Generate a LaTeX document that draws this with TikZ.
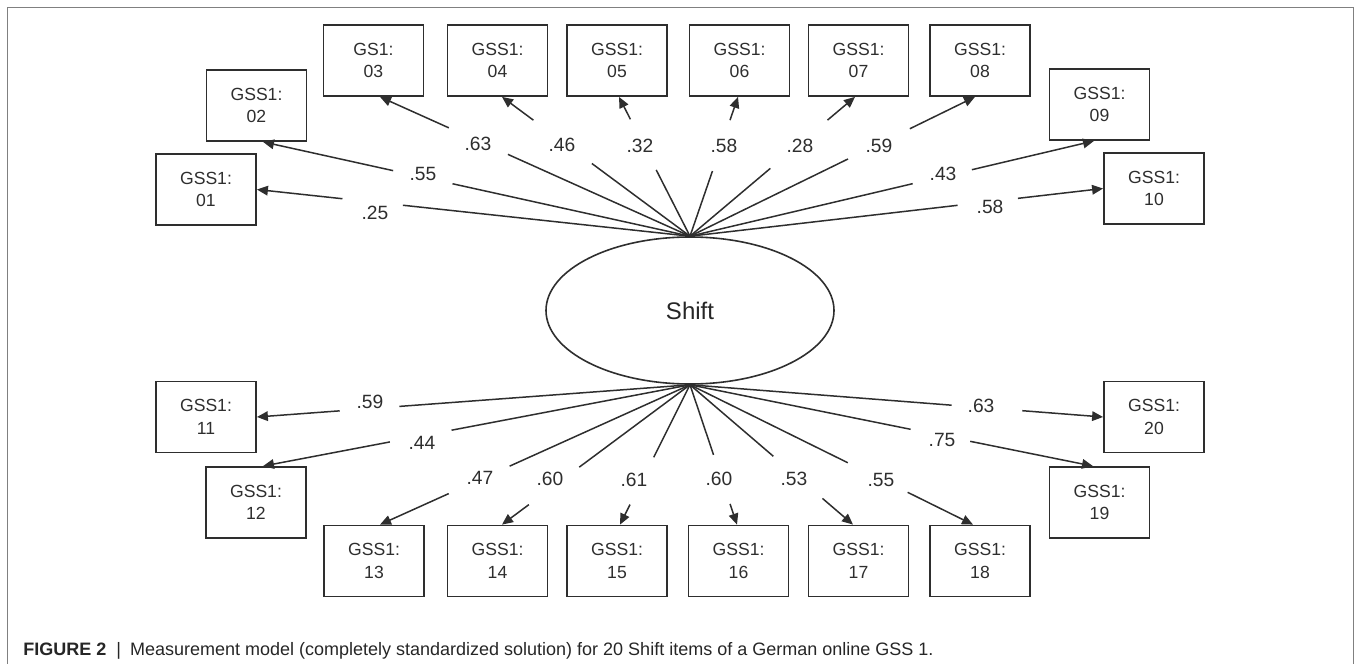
\documentclass[tikz,border=0pt]{standalone}
\usepackage{fontspec}
\setmainfont{Liberation Sans}
\usetikzlibrary{arrows.meta,shapes.geometric,calc}
\definecolor{ink}{HTML}{2E2E2E}
\definecolor{framegray}{HTML}{808080}
\begin{document}
\begin{tikzpicture}[x=0.5pt,y=-0.5pt,
  item/.style={draw=ink, line width=0.9pt, minimum width=50pt, minimum height=35.5pt,
    inner sep=0pt, align=center, font=\fontsize{8.8}{11.25}\selectfont, text=ink},
  lat/.style={ellipse, draw=ink, line width=0.8pt, minimum width=144pt, minimum height=73.5pt,
    inner sep=0pt, font=\fontsize{12}{14}\selectfont, text=black!85},
  wire/.style={draw=ink, line width=0.75pt},
  load/.style={wire, -{Triangle[length=5.5pt,width=4.8pt]}},
  gap/.style={circle, inner sep=0pt, minimum size=#1},
  coef/.style={inner sep=0pt, font=\fontsize{9.6}{11}\selectfont, text=ink},
]
\useasboundingbox (0,0) rectangle (1356,664);
\draw[framegray, line width=0.75pt] (7.5,664) -- (7.5,7.5) -- (1353.5,7.5) -- (1353.5,664);

% latent variable
\node[lat] (ell) at (690,310.5) {Shift};

% indicator boxes
\node[item] (b01) at (206,189.5) {GSS1:\\01};
\node[item] (b02) at (256.5,105.5) {GSS1:\\02};
\node[item] (b03) at (373.5,60.5) {GS1:\\03};
\node[item] (b04) at (497.5,60.5) {GSS1:\\04};
\node[item] (b05) at (617,60.5) {GSS1:\\05};
\node[item] (b06) at (739.5,60.5) {GSS1:\\06};
\node[item] (b07) at (858.5,60.5) {GSS1:\\07};
\node[item] (b08) at (980,60.5) {GSS1:\\08};
\node[item] (b09) at (1099.5,104.5) {GSS1:\\09};
\node[item] (b10) at (1154,188.5) {GSS1:\\10};
\node[item] (b11) at (206,417) {GSS1:\\11};
\node[item] (b12) at (256,502.5) {GSS1:\\12};
\node[item] (b13) at (374,561) {GSS1:\\13};
\node[item] (b14) at (497.5,561) {GSS1:\\14};
\node[item] (b15) at (617,561) {GSS1:\\15};
\node[item] (b16) at (738.5,561) {GSS1:\\16};
\node[item] (b17) at (858.5,561) {GSS1:\\17};
\node[item] (b18) at (980,561) {GSS1:\\18};
\node[item] (b19) at (1099.5,502.5) {GSS1:\\19};
\node[item] (b20) at (1154,417) {GSS1:\\20};

% arrow targets on the boxes
\coordinate (t01) at (b01.east);
\coordinate (t10) at (b10.west);
\coordinate (t11) at (b11.east);
\coordinate (t20) at (b20.west);
\foreach \n/\dx in {02/6.5, 03/6.5, 04/4.5, 05/2, 06/-1.5, 07/-3.5, 08/-5, 09/-5.5}
  \coordinate (t\n) at ($(b\n.south)+(\dx,0)$);
\foreach \n/\dx in {12/7, 13/6, 14/4.5, 15/3, 16/-1.5, 17/-5.5, 18/-7, 19/-6.5}
  \coordinate (t\n) at ($(b\n.north)+(\dx,0)$);

% loadings: each line is broken by a gap around its coefficient
\foreach \n/\gx/\gy/\len in {01/372.5/203.5/30, 02/422.5/178.5/30, 03/477.5/143/32, 04/561/144/36,
    05/642.5/145/28, 06/722.5/146/26.5, 07/800/145.5/37, 08/879.5/145/34, 09/942.5/177.5/30, 10/988/203.5/30}{
  \node[gap=\len pt] (g\n) at ($(ell.north)!(\gx,\gy)!(t\n)$) {};
  \draw[wire] (ell.north) -- (g\n);
  \draw[load] (g\n) -- (t\n);
}
\foreach \n/\gx/\gy/\len in {11/369.5/408.5/29.5, 12/420.5/435/31, 13/479/479.5/33, 14/553/484.5/31,
    15/640/480/26, 16/723/479/25.5, 17/799.5/475.5/32, 18/878.5/476/33, 19/940.5/435/30, 20/987/408/35}{
  \node[gap=\len pt] (g\n) at ($(ell.south)!(\gx,\gy)!(t\n)$) {};
  \draw[wire] (ell.south) -- (g\n);
  \draw[load] (g\n) -- (t\n);
}

% coefficients
\foreach \n/\x/\y/\t in {01/375/213/.25, 02/423/174/.55, 03/478/144/.63, 04/562/145/.46,
    05/640/146/.32, 06/724/146/.58, 07/800/146/.28, 08/879/146/.59, 09/943/174/.43, 10/990/207/.58,
    11/370/402/.59, 12/422/443/.44, 13/480/478/.47, 14/550/479/.60, 15/634/480/.61,
    16/719/479/.60, 17/794/479/.53, 18/881/480/.55, 19/942/440/.75, 20/981/406/.63}
  \node[coef] (l\n) at (\x,\y) {\t};

% caption
\node[anchor=base west, inner sep=0pt, font=\fontsize{9}{11}\selectfont, text=black!85] (cap) at (23,655)
  {\textbf{FIGURE 2}\hspace{5pt}|\hspace{4.5pt}Measurement model (completely standardized solution) for 20 Shift items of a German online GSS 1.};
\end{tikzpicture}
\end{document}
